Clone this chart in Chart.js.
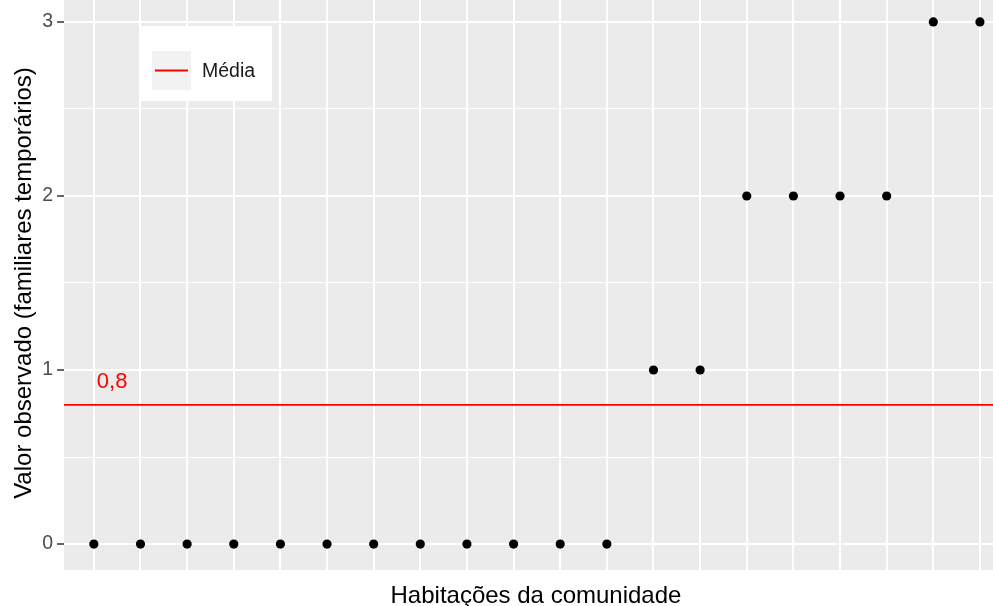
<!DOCTYPE html>
<html><head><meta charset="utf-8">
<script src="https://cdn.jsdelivr.net/npm/chart.js@4"></script>
<style>html,body{margin:0;padding:0;background:#fff;overflow:hidden}#wrap{width:993px;height:606px;position:relative}</style>
</head><body><div id="wrap"><canvas id="c" width="993" height="606"></canvas></div>
<script>
// ---- data ----
const houses = [1,2,3,4,5,6,7,8,9,10,11,12,13,14,15,16,17,18,19,20];
const observed = [0,0,0,0,0,0,0,0,0,0,0,0,1,1,2,2,2,2,3,3];
const meanValue = 0.8;
const meanLabel = '0,8';
const yMajorTicks = [0,1,2,3];
const yMinorTicks = [0.5,1.5,2.5];
const legendLabel = 'Média';
const xTitle = 'Habitações da comunidade';
const yTitle = 'Valor observado (familiares temporários)';

const FONT = '"Liberation Sans", Arial, sans-serif';
const X_MIN = 0.36, X_MAX = 20.28, Y_MIN = -0.149, Y_MAX = 3.126;

const points = houses.map((h, i) => ({x: h, y: observed[i]}));
const meanLine = [{x: X_MIN, y: meanValue}, {x: X_MAX, y: meanValue}];

const decor = {
  id: 'decor',
  beforeDraw(chart) {
    const {ctx, chartArea: a} = chart;
    ctx.save();
    ctx.fillStyle = '#ffffff';
    ctx.fillRect(0, 0, chart.width, chart.height);
    ctx.fillStyle = '#EBEBEB';
    ctx.fillRect(a.left, a.top, a.right - a.left, a.bottom - a.top);
    ctx.restore();
  },
  afterDraw(chart) {
    const {ctx, chartArea: a} = chart;
    const xs = chart.scales.x, ys = chart.scales.y;
    ctx.save();
    // mean label
    ctx.fillStyle = '#FF0000';
    ctx.font = '22px ' + FONT;
    ctx.textAlign = 'left';
    ctx.textBaseline = 'alphabetic';
    ctx.fillText(meanLabel, xs.getPixelForValue(houses[0]) + 3, ys.getPixelForValue(meanValue + 0.097));
    // legend
    ctx.fillStyle = '#ffffff';
    ctx.fillRect(140, 26, 132, 75);
    ctx.fillStyle = '#F2F2F2';
    ctx.fillRect(152, 51, 39, 39);
    ctx.strokeStyle = '#FF0000';
    ctx.lineWidth = 2;
    ctx.beginPath(); ctx.moveTo(155, 70.5); ctx.lineTo(188, 70.5); ctx.stroke();
    ctx.fillStyle = '#1A1A1A';
    ctx.font = '19.5px ' + FONT;
    ctx.textBaseline = 'middle';
    ctx.fillText(legendLabel, 202, 72);
    // axis titles
    ctx.fillStyle = '#000000';
    ctx.font = '24px ' + FONT;
    ctx.textAlign = 'center';
    ctx.textBaseline = 'alphabetic';
    ctx.fillText(xTitle, (a.left + xs.getPixelForValue(20.6)) / 2, 603);
    const panelTop = ys.getPixelForValue(3.15), panelBottom = ys.getPixelForValue(-0.15);
    ctx.translate(31, (panelTop + panelBottom) / 2);
    ctx.rotate(-Math.PI / 2);
    ctx.fillText(yTitle, 0, 0);
    ctx.restore();
  }
};

new Chart(document.getElementById('c'), {
  data: {
    datasets: [
      {type: 'scatter', label: 'obs', data: points, backgroundColor: '#000000', borderColor: '#000000',
       pointRadius: 4.6, pointHoverRadius: 4.6, borderWidth: 0, order: 2},
      {type: 'line', label: legendLabel, data: meanLine, borderColor: '#FF0000', borderWidth: 1.6,
       pointRadius: 0, fill: false, order: 1}
    ]
  },
  options: {
    responsive: false,
    animation: false,
    devicePixelRatio: 1,
    layout: {padding: 0, autoPadding: false},
    plugins: {legend: {display: false}, tooltip: {enabled: false}, title: {display: false}},
    scales: {
      x: {
        type: 'linear', min: X_MIN, max: X_MAX,
        afterBuildTicks: s => { s.ticks = houses.map(v => ({value: v})); },
        ticks: {display: false},
        grid: {color: '#ffffff', lineWidth: 2, drawTicks: false},
        border: {display: false},
        afterFit: s => { s.height = 36; s.paddingLeft = 0; s.paddingRight = 0; }
      },
      y: {
        type: 'linear', min: Y_MIN, max: Y_MAX,
        afterBuildTicks: s => { s.ticks = yMajorTicks.concat(yMinorTicks).sort((p, q) => p - q).map(v => ({value: v})); },
        ticks: {
          color: '#4D4D4D', font: {family: FONT, size: 19.5}, padding: 4,
          callback: v => yMajorTicks.includes(v) ? String(v) : ''
        },
        grid: {
          color: '#ffffff',
          lineWidth: c => (c.tick && yMajorTicks.includes(c.tick.value)) ? 2 : 1,
          drawTicks: true, tickLength: 7,
          tickColor: c => (c.tick && yMajorTicks.includes(c.tick.value)) ? '#333333' : 'rgba(0,0,0,0)',
          tickWidth: 1.5
        },
        border: {display: false},
        afterFit: s => { s.width = 64; s.paddingTop = 0; s.paddingBottom = 0; }
      }
    }
  },
  plugins: [decor]
});
</script></body></html>
